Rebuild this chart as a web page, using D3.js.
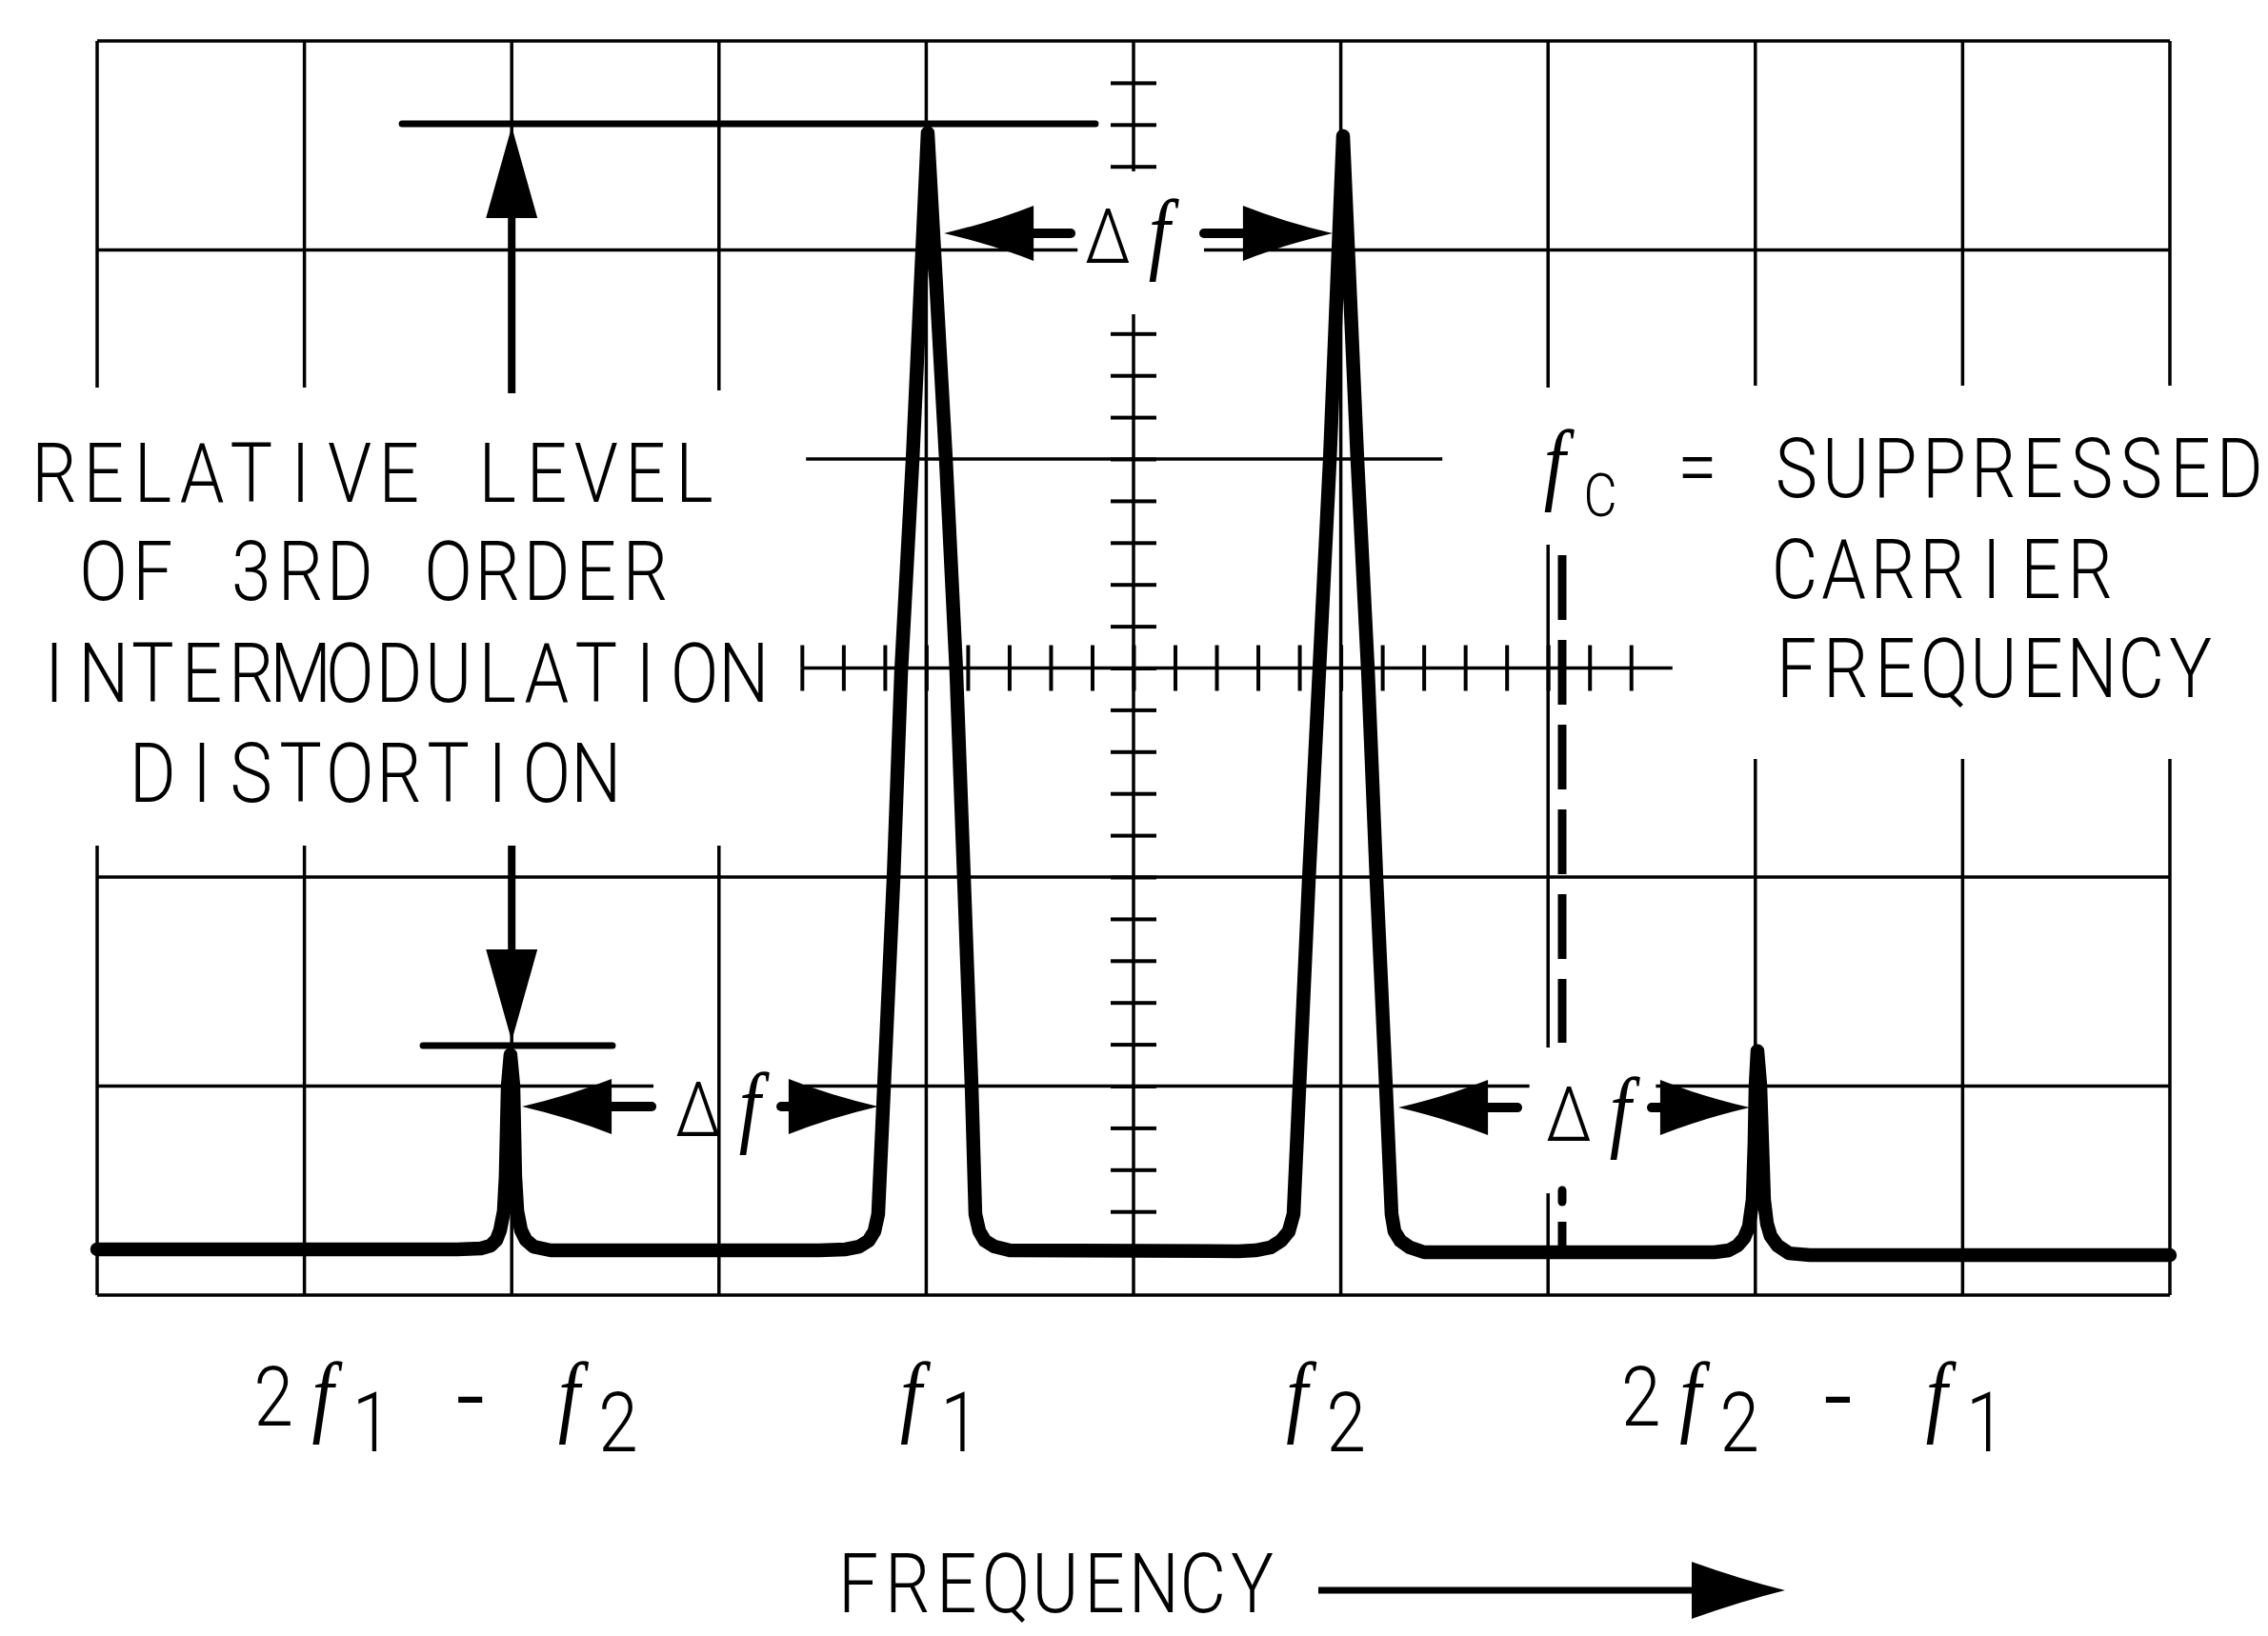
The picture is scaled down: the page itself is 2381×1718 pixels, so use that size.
<!DOCTYPE html>
<html><head><meta charset="utf-8">
<script src="https://cdn.jsdelivr.net/npm/d3@7/dist/d3.min.js"></script>
<style>
html,body{margin:0;padding:0;background:#fff;}
svg{display:block;background:#fff;}
.sans{font-family:Roboto,"DejaVu Sans",sans-serif;font-weight:300;}
.ital{font-family:"Liberation Serif","DejaVu Serif",serif;font-style:italic;font-weight:400;}
</style></head><body>
<svg id="chart" width="2381" height="1718"></svg>
<script>
// ---------------- data ----------------
// horizontal axis: screen divisions (0..10); vertical axis: level in dB (10 dB/div)
const freqDomain = [0, 10];
const levelDomain = [-60, 0];

// graticule segments: [level, freqFrom, freqTo]
const hGrid = [
  [0, 0, 10],
  [-10, 0, 4.73], [-10, 5.34, 10],
  [-20, 3.42, 6.49],
  [-40, 0, 10],
  [-50, 0, 2.684], [-50, 3.41, 6.91], [-50, 7.52, 10],
  [-60, 0, 10]
];
// graticule segments: [freq, levelFrom, levelTo]
const vGrid = [
  [0, 0, -16.58], [0, -38.5, -60],
  [1, 0, -16.58], [1, -38.5, -60],
  [2, 0, -16.86], [2, -38.5, -60],
  [3, 0, -16.72], [3, -38.5, -60],
  [4, 0, -60],
  [6, 0, -60],
  [7, 0, -16.58], [7, -24.1, -48.15], [7, -55.13, -60],
  [8, 0, -16.49], [8, -34.35, -60],
  [9, 0, -16.49], [9, -34.35, -60],
  [10, 0, -16.49], [10, -34.35, -60]
];
// centre cross-hair (graduated axes)
const axisCentreFreq = 5;
const axisCentreLevel = -30;
const axisFreqSpan = [3.4, 7.6];
const axisFreqTicks = [3.4,3.6,3.8,4.0,4.2,4.4,4.6,4.8,5.0,5.2,5.4,5.6,5.8,6.0,6.2,6.4,6.6,6.8,7.0,7.2,7.4];
const axisLevelSegments = [[0, -6.24], [-13.08, -60]];
const axisLevelTicks = [-2,-4,-6,-14,-16,-18,-20,-22,-24,-26,-28,-30,-32,-34,-36,-38,-40,-42,-44,-46,-48,-50,-52,-54,-56,-58];

// spectrum trace
const traceFreq = [0, 1.737, 1.852, 1.898, 1.926, 1.944, 1.962, 1.971, 1.981, 1.994, 2.008, 2.017, 2.027, 2.045, 2.068, 2.105, 2.188,
  3.483, 3.612, 3.676, 3.722, 3.750, 3.768, 3.796, 3.842, 3.879, 3.934, 4.007, 4.095, 4.145, 4.182, 4.219, 4.237, 4.256, 4.283, 4.329, 4.403,
  5.506, 5.588, 5.662, 5.712, 5.749, 5.772, 5.800, 5.846, 5.896, 5.947, 6.011, 6.080, 6.131, 6.172, 6.218, 6.245, 6.259, 6.287, 6.333, 6.402,
  7.803, 7.872, 7.914, 7.946, 7.969, 7.987, 7.996, 8.001, 8.010, 8.024, 8.033, 8.042, 8.056, 8.074, 8.107, 8.162, 8.263, 10];
const traceLevel = [-57.81, -57.81, -57.77, -57.63, -57.36, -56.90, -55.99, -54.31, -49.98, -48.50, -49.98, -54.31, -55.99, -56.90, -57.36, -57.68, -57.86,
  -57.86, -57.81, -57.68, -57.40, -56.95, -56.13, -50.07, -40.09, -30.16, -20.05, -4.40, -20.05, -30.16, -40.09, -50.07, -56.13, -56.95, -57.40, -57.68, -57.86,
  -57.90, -57.86, -57.72, -57.40, -56.95, -56.13, -50.07, -40.09, -30.16, -20.05, -4.55, -20.05, -30.16, -40.09, -50.07, -56.13, -56.95, -57.40, -57.72, -57.95,
  -57.95, -57.86, -57.63, -57.27, -56.72, -55.44, -52.71, -49.98, -48.32, -49.98, -52.71, -55.44, -56.58, -57.18, -57.63, -58.00, -58.09, -58.09];

// peaks and their labels
const peakFreqs = [2, 4, 6, 8];
const peakLabels = ["2f1 - f2", "f1", "f2", "2f2 - f1"];

// level markers: [level, freqFrom, freqTo]
const refMarker = [-3.96, 1.471, 4.816];
const imdMarker = [-48.06, 1.572, 2.486];
// vertical arrows at the 3rd-order product: [freq, tailLevel, tipLevel]
const levelArrows = [[2, -16.86, -4.10], [2, -38.5, -47.84]];
// delta-f arrows: [tailFreq, tipFreq, level]
const deltaArrows = [
  [4.697, 4.086, -9.2], [5.340, 5.960, -9.2],
  [2.675, 2.050, -50.98], [3.300, 3.768, -50.98],
  [6.852, 6.278, -51.03], [7.500, 7.973, -51.03]
];
// suppressed-carrier marker
const fcFreq = 7.068;
const fcDash = [-24.6, -47.93];
const fcDot = [-54.99, -55.54];
const fcStub = [-56.49, -57.86];

// text
const leftNote = ["RELATIVE LEVEL", "OF 3RD ORDER", "INTERMODULATION", "DISTORTION"];
const rightNote = ["SUPPRESSED", "CARRIER", "FREQUENCY"];
const axisTitle = "FREQUENCY";
const deltaLabel = "\u0394f";

// ---------------- drawing ----------------
const svg = d3.select("#chart");
const x = d3.scaleLinear().domain(freqDomain).range([102, 2278]);
const y = d3.scaleLinear().domain(levelDomain).range([1360, 43]);
const PITCH = 51.7;
const SX = 0.86;          // horizontal glyph compression (plotter lettering)
const GRID_W = 3.5;

const gGrid = svg.append("g").attr("stroke", "#000").attr("stroke-width", GRID_W).attr("fill", "none");
gGrid.selectAll("line.h").data(hGrid).join("line")
  .attr("x1", d => x(d[1])).attr("x2", d => x(d[2]))
  .attr("y1", d => y(d[0])).attr("y2", d => y(d[0]));
gGrid.selectAll("line.v").data(vGrid).join("line")
  .attr("x1", d => x(d[0])).attr("x2", d => x(d[0]))
  .attr("y1", d => y(d[1])).attr("y2", d => y(d[2]));

// centre cross-hair with graduations
const gAx = svg.append("g").attr("stroke", "#000").attr("fill", "none");
gAx.append("line").attr("stroke-width", GRID_W)
  .attr("x1", x(axisFreqSpan[0])).attr("x2", x(axisFreqSpan[1]))
  .attr("y1", y(axisCentreLevel)).attr("y2", y(axisCentreLevel));
gAx.selectAll("line.vs").data(axisLevelSegments).join("line").attr("stroke-width", GRID_W)
  .attr("x1", x(axisCentreFreq)).attr("x2", x(axisCentreFreq))
  .attr("y1", d => y(d[0])).attr("y2", d => y(d[1]));

function tickAxis(gen, tr) {
  const g = svg.append("g").attr("transform", tr).call(gen);
  g.select(".domain").remove();
  g.selectAll(".tick line").attr("stroke", "#000").attr("stroke-width", 4);
  g.selectAll(".tick text").remove();
}
tickAxis(d3.axisBottom(x).tickValues(axisFreqTicks).tickSizeInner(24).tickSizeOuter(0).tickFormat(""), `translate(0,${y(axisCentreLevel)})`);
tickAxis(d3.axisTop(x).tickValues(axisFreqTicks).tickSizeInner(24).tickSizeOuter(0).tickFormat(""), `translate(0,${y(axisCentreLevel)})`);
tickAxis(d3.axisLeft(y).tickValues(axisLevelTicks).tickSizeInner(24).tickSizeOuter(0).tickFormat(""), `translate(${x(axisCentreFreq)},0)`);
tickAxis(d3.axisRight(y).tickValues(axisLevelTicks).tickSizeInner(24).tickSizeOuter(0).tickFormat(""), `translate(${x(axisCentreFreq)},0)`);

// suppressed carrier marker
const gFc = svg.append("g").attr("stroke", "#000").attr("stroke-width", 9).attr("fill", "none");
gFc.append("line").attr("x1", x(fcFreq)).attr("x2", x(fcFreq))
  .attr("y1", y(fcDash[0])).attr("y2", y(fcDash[1])).attr("stroke-dasharray", "68 21");
gFc.append("line").attr("x1", x(fcFreq)).attr("x2", x(fcFreq)).attr("stroke-linecap", "round")
  .attr("y1", y(fcDot[0])).attr("y2", y(fcDot[1]));
gFc.append("line").attr("x1", x(fcFreq)).attr("x2", x(fcFreq))
  .attr("y1", y(fcStub[0])).attr("y2", y(fcStub[1]));

// trace
const tracePts = traceFreq.map((f, i) => [f, traceLevel[i]]);
svg.append("path").datum(tracePts)
  .attr("d", d3.line().x(d => x(d[0])).y(d => y(d[1])).curve(d3.curveLinear))
  .attr("fill", "none").attr("stroke", "#000").attr("stroke-width", 14.5)
  .attr("stroke-linejoin", "round").attr("stroke-linecap", "round");

// level markers
svg.selectAll("line.mk").data([refMarker, imdMarker]).join("line")
  .attr("x1", d => x(d[1])).attr("x2", d => x(d[2]))
  .attr("y1", d => y(d[0])).attr("y2", d => y(d[0]))
  .attr("stroke", "#000").attr("stroke-width", 7).attr("stroke-linecap", "round");

// arrows
const HEAD = 94, HW = 29;
const gArr = svg.append("g");
deltaArrows.forEach(([tf, pf, lv]) => {
  const xt = x(tf), xp = x(pf), yy = y(lv);
  const dir = Math.sign(xp - xt);
  const xb = xp - dir * HEAD;
  if ((xb - xt) * dir > 0) {
    gArr.append("line").attr("x1", xt).attr("x2", xb + dir * 8).attr("y1", yy).attr("y2", yy)
      .attr("stroke", "#000").attr("stroke-width", 10).attr("stroke-linecap", "round");
  }
  gArr.append("path").attr("fill", "#000")
    .attr("d", `M${xp},${yy} Q${xb + dir * HEAD * 0.45},${yy - HW * 0.42} ${xb},${yy - HW} L${xb},${yy + HW} Q${xb + dir * HEAD * 0.45},${yy + HW * 0.42} ${xp},${yy} Z`);
});
levelArrows.forEach(([f, tl, pl]) => {
  const xx = x(f), yt = y(tl), yp = y(pl);
  const dir = Math.sign(yp - yt);
  const yb = yp - dir * 96;
  gArr.append("line").attr("x1", xx).attr("x2", xx).attr("y1", yt).attr("y2", yb + dir * 8)
    .attr("stroke", "#000").attr("stroke-width", 8);
  gArr.append("path").attr("fill", "#000")
    .attr("d", `M${xx},${yp} L${xx - 27},${yb} L${xx + 27},${yb} Z`);
});

// ---------------- text ----------------
function xsFor(str, cx0) {
  return [...str].map((c, i) => ((cx0 + i * PITCH) / SX).toFixed(1)).join(" ");
}
function monoLine(str, cx0, baseline, size) {
  return svg.append("text").attr("class", "sans").attr("font-size", size)
    .attr("transform", `scale(${SX},1)`)
    .attr("text-anchor", "middle").attr("x", xsFor(str, cx0)).attr("y", baseline).text(str);
}
const leftCols = [0, 1, 0, 2];
const leftBase = [527, 630, 737, 842];
leftNote.forEach((s, i) => monoLine(s, 57 + leftCols[i] * PITCH, leftBase[i], 87));

// fc = SUPPRESSED / CARRIER / FREQUENCY
const tFc = svg.append("text").attr("text-anchor", "middle").attr("transform", `scale(${SX},1)`);
tFc.append("tspan").attr("class", "ital").attr("font-size", 95).attr("x", 1632 / SX).attr("y", 518).text("f");
tFc.append("tspan").attr("class", "sans").attr("font-size", 63).attr("x", 1680 / SX).attr("y", 542).text("C");
tFc.append("tspan").attr("class", "sans").attr("font-size", 87).attr("font-weight", 700).attr("x", 1782 / SX).attr("y", 520).text(" = ");
tFc.append("tspan").attr("class", "sans").attr("font-size", 87)
  .attr("x", xsFor(rightNote[0], 1886)).attr("y", 522).text(rightNote[0]);
monoLine(rightNote[1], 1884, 628, 87);
monoLine(rightNote[2], 1886, 732, 87);

// axis title with arrow
monoLine(axisTitle, 901, 1693, 87);
svg.append("line").attr("x1", 1384).attr("x2", 1786).attr("y1", 1670).attr("y2", 1670)
  .attr("stroke", "#000").attr("stroke-width", 7);
svg.append("path").attr("fill", "#000")
  .attr("d", `M1874,1670 Q1826,1658 1776,1640 L1776,1700 Q1826,1682 1874,1670 Z`);

// peak labels (math): f italic, digit after f = subscript
const labelOffsets = [-250, -16, -46, -120];
peakLabels.forEach((lab, k) => {
  const cx0 = x(peakFreqs[k]) + labelOffsets[k];
  const base = 1497;
  const t = svg.append("text").attr("text-anchor", "middle").attr("transform", `scale(${SX},1)`);
  [...lab].forEach((c, i) => {
    const cx = (cx0 + i * PITCH) / SX;
    const ts = t.append("tspan").attr("x", cx.toFixed(1));
    if (c === "f") ts.attr("class", "ital").attr("font-size", 95).attr("y", base);
    else if (/\d/.test(c) && lab[i - 1] === "f") ts.attr("class", "sans").attr("font-size", 87).attr("y", base + 27);
    else if (c === "-") ts.attr("class", "sans").attr("font-size", 125).attr("font-weight", 700).attr("y", base + 12);
    else ts.attr("class", "sans").attr("font-size", 87).attr("y", base);
    ts.text(c);
  });
});

// delta-f labels
const deltaPos = [[1163, 276], [733, 1193], [1647, 1198]];
deltaPos.forEach(([cx, b]) => {
  const t = svg.append("text").attr("text-anchor", "middle").attr("transform", `scale(${SX},1)`);
  t.append("tspan").attr("class", "sans").attr("font-size", 80).attr("x", cx / SX).attr("y", b).text(deltaLabel[0]);
  t.append("tspan").attr("class", "ital").attr("font-size", 95).attr("x", (cx + 54) / SX).attr("y", b).text(deltaLabel[1]);
});
</script></body></html>
